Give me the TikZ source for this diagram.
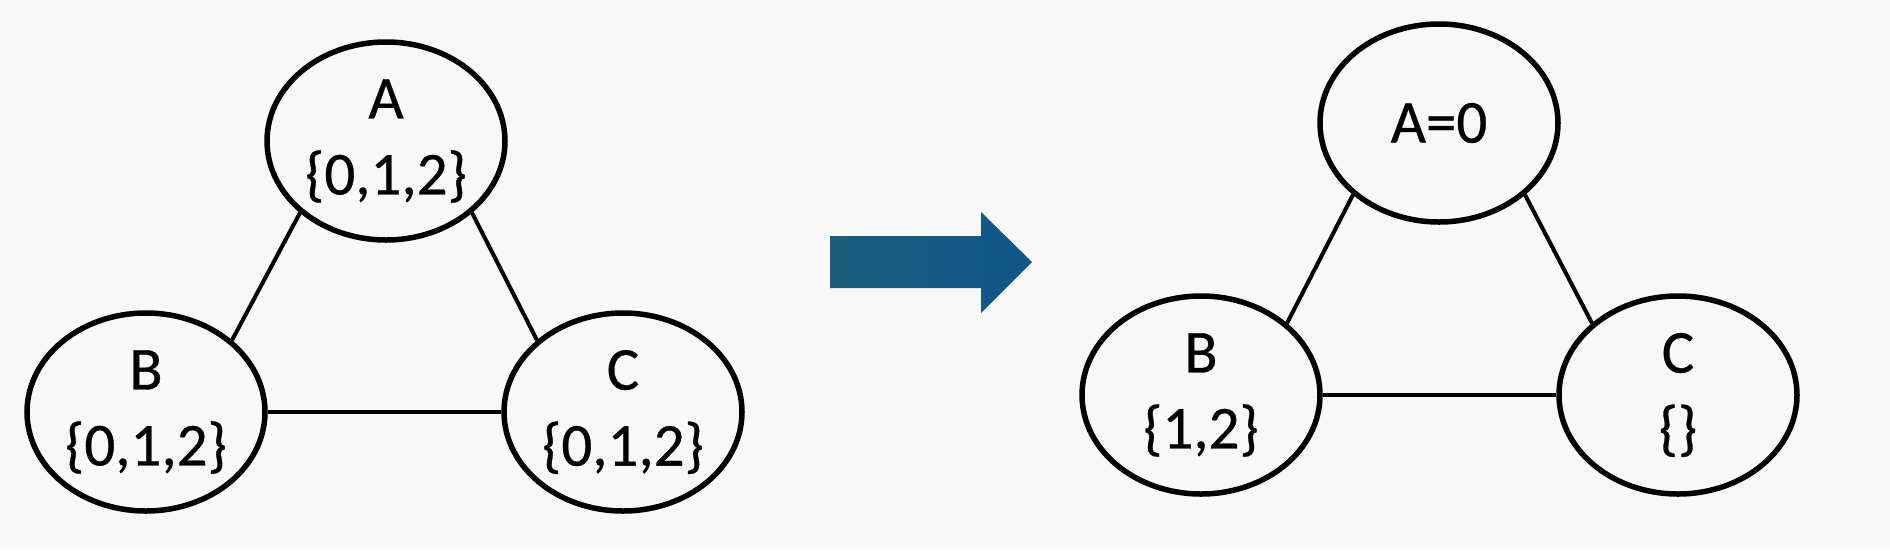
\documentclass[tikz,border=0pt]{standalone}
\usepackage{fontspec}
\setmainfont{Carlito}
\newfontfamily\nodefont{Carlito}[FakeBold=0.5]
\usetikzlibrary{shapes.geometric,calc}
\definecolor{bgc}{HTML}{F8F8F8}
\definecolor{arrL}{HTML}{1A5E7C}
\definecolor{arrM}{HTML}{14699A}
\definecolor{arrR}{HTML}{10578A}
\begin{document}
\begin{tikzpicture}[x=1pt,y=-1pt,
  varnode/.style={ellipse,draw=black,line width=5.5pt,minimum width=238pt,minimum height=198pt,
    inner sep=0pt,align=center,font=\nodefont\fontsize{61}{76}\selectfont},
  edge/.style={draw=black,line width=4pt}]
\fill[bgc] (0,0) rectangle (1890,550);
\useasboundingbox (0,0) rectangle (1890,550);
% left graph
\node[varnode] (LA) at (386,141) {A\\\{0,1,2\}};
\node[varnode] (LB) at (146,412) {B\\\{0,1,2\}};
\node[varnode] (LC) at (623,412) {C\\\{0,1,2\}};
\draw[edge] (LA.south west) -- (LB.north east);
\draw[edge] (LA.south east) -- (LC.north west);
\draw[edge] (LB.east) -- (LC.west);
% arrow
\shade[left color=arrL,middle color=arrM,right color=arrR]
  (830,236) -- (981,236) -- (981,212) -- (1032,262) -- (981,313) -- (981,288) -- (830,288) -- cycle;
% right graph
\node[varnode] (RA) at (1439,123) {A=0};
\node[varnode] (RB) at (1201,395) {B\\\{1,2\}};
\node[varnode] (RC) at (1678,395) {C\\\{\}};
\draw[edge] (RA.south west) -- (RB.north east);
\draw[edge] (RA.south east) -- (RC.north west);
\draw[edge] (RB.east) -- (RC.west);
\end{tikzpicture}
\end{document}
